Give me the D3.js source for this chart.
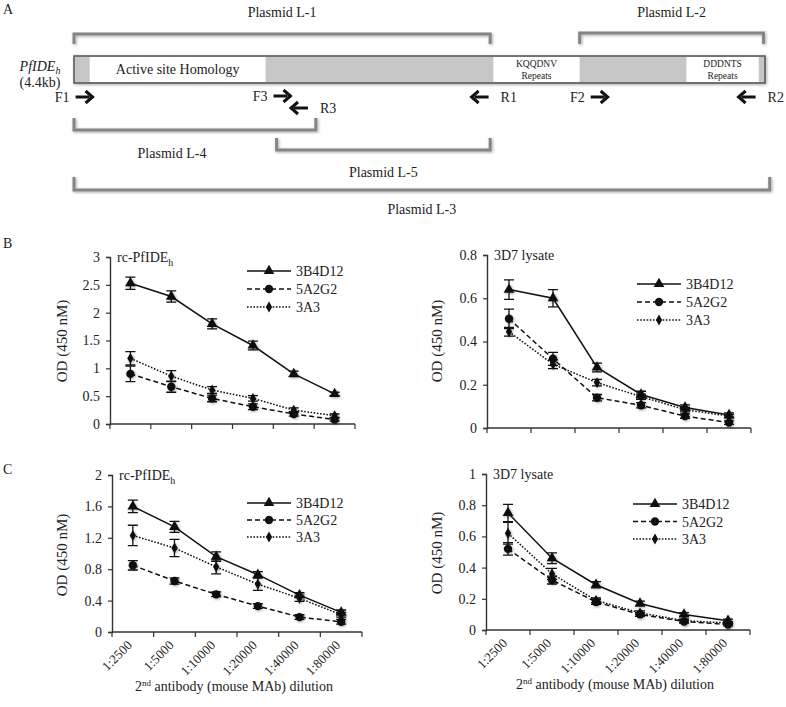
<!DOCTYPE html>
<html><head><meta charset="utf-8">
<script src="https://cdn.jsdelivr.net/npm/d3@7"></script>
<style>
body{margin:0;background:#fff}
svg text{font-family:"Liberation Serif","Tinos","DejaVu Serif","Noto Serif",serif !important;fill:#222}
</style>
</head><body>
<svg id="c" width="786" height="707"></svg>
<script>
// ---------- Data ----------
const dilutions = ["1:2500","1:5000","1:10000","1:20000","1:40000","1:80000"];
const seriesNames = ["3B4D12","5A2G2","3A3"];

// Panel B, rc-PfIDEh
const bRc3B4D12 = [2.53,2.29,1.80,1.41,0.90,0.54];
const bRc5A2G2  = [0.90,0.67,0.46,0.31,0.18,0.08];
const bRc3A3    = [1.18,0.86,0.61,0.46,0.25,0.15];
const bRcErr3B4D12 = [0.11,0.10,0.09,0.08,0.05,0.03];
const bRcErr5A2G2  = [0.14,0.10,0.06,0.05,0.04,0.03];
const bRcErr3A3    = [0.12,0.10,0.06,0.05,0.04,0.03];

// Panel B, 3D7 lysate
const bLy3B4D12 = [0.64,0.60,0.28,0.155,0.095,0.06];
const bLy5A2G2  = [0.505,0.32,0.14,0.105,0.055,0.025];
const bLy3A3    = [0.445,0.295,0.21,0.145,0.085,0.055];
const bLyErr3B4D12 = [0.045,0.04,0.02,0.015,0.012,0.01];
const bLyErr5A2G2  = [0.045,0.03,0.015,0.012,0.01,0.008];
const bLyErr3A3    = [0.02,0.02,0.015,0.012,0.01,0.008];

// Panel C, rc-PfIDEh
const cRc3B4D12 = [1.60,1.34,0.96,0.73,0.47,0.25];
const cRc5A2G2  = [0.85,0.65,0.48,0.33,0.19,0.13];
const cRc3A3    = [1.23,1.07,0.83,0.61,0.43,0.22];
const cRcErr3B4D12 = [0.08,0.07,0.06,0.04,0.03,0.03];
const cRcErr5A2G2  = [0.06,0.04,0.03,0.03,0.03,0.03];
const cRcErr3A3    = [0.13,0.11,0.09,0.08,0.04,0.03];

// Panel C, 3D7 lysate
const cLy3B4D12 = [0.75,0.46,0.29,0.17,0.10,0.06];
const cLy5A2G2  = [0.52,0.32,0.18,0.10,0.055,0.035];
const cLy3A3    = [0.62,0.36,0.19,0.11,0.06,0.045];
const cLyErr3B4D12 = [0.055,0.035,0.02,0.015,0.012,0.01];
const cLyErr5A2G2  = [0.04,0.025,0.015,0.012,0.01,0.008];
const cLyErr3A3    = [0.07,0.035,0.015,0.012,0.01,0.008];

// Panel A gene map (kb positions on a 4.4 kb gene)
const geneLength = 4.4;
const whiteSegments = [
  {start:0.10, end:1.22, lines:["Active site Homology"], big:true},
  {start:2.67, end:3.22, lines:["KQQDNV","Repeats"], big:false},
  {start:3.90, end:4.36, lines:["DDDNTS","Repeats"], big:false}
];
const plasmids = [
  {name:"Plasmid L-1", start:0.0, end:2.65},
  {name:"Plasmid L-2", start:3.22, end:4.39},
  {name:"Plasmid L-4", start:0.0, end:1.54},
  {name:"Plasmid L-5", start:1.29, end:2.65},
  {name:"Plasmid L-3", start:0.0, end:4.43}
];
const primers = [
  {name:"F1", pos:0.01, dir:1},
  {name:"F3", pos:1.27, dir:1},
  {name:"R3", pos:1.49, dir:-1},
  {name:"R1", pos:2.64, dir:-1},
  {name:"F2", pos:3.29, dir:1},
  {name:"R2", pos:4.34, dir:-1}
];

// ---------- Drawing ----------
const FONT = '"Liberation Serif","Tinos","DejaVu Serif","Noto Serif",serif';
const svg = d3.select("#c");
const defs = svg.append("defs");
const f = defs.append("filter").attr("id","sh").attr("x","-30%").attr("y","-30%").attr("width","160%").attr("height","160%");
f.append("feGaussianBlur").attr("in","SourceAlpha").attr("stdDeviation",1.4);
f.append("feOffset").attr("dx",1).attr("dy",1.2).attr("result","b");
f.append("feComponentTransfer").append("feFuncA").attr("type","linear").attr("slope",0.35);
const fm = f.append("feMerge"); fm.append("feMergeNode"); fm.append("feMergeNode").attr("in","SourceGraphic");

[["A",3,14],["B",3,248],["C",3,474]].forEach(([t,x,y])=>
  svg.append("text").attr("x",x).attr("y",y).attr("font-size",14).text(t));

// ----- Panel A -----
const gx = d3.scaleLinear().domain([0,geneLength]).range([74,765]);
const gA = svg.append("g");
gA.append("rect").attr("x",gx(0)).attr("y",56).attr("width",gx(geneLength)-gx(0)).attr("height",27)
  .attr("fill","#c6c6c6").attr("stroke","#555").attr("stroke-width",1.5).attr("filter","url(#sh)");
whiteSegments.forEach(s=>{
  gA.append("rect").attr("x",gx(s.start)).attr("y",57).attr("width",gx(s.end)-gx(s.start)).attr("height",25).attr("fill","#fff");
  const cx=(gx(s.start)+gx(s.end))/2;
  if(s.big){
    gA.append("text").attr("x",cx).attr("y",74).attr("text-anchor","middle").attr("font-size",14).text(s.lines[0]);
  } else {
    s.lines.forEach((l,i)=>gA.append("text").attr("x",cx).attr("y",67+i*12).attr("text-anchor","middle").attr("font-size",9.5).text(l));
  }
});
const gn = gA.append("text").attr("x",40).attr("y",71).attr("text-anchor","middle").attr("font-size",14).attr("font-style","italic");
gn.append("tspan").text("PfIDE");
gn.append("tspan").attr("dy",3).attr("font-size",10).text("h");
gA.append("text").attr("x",40).attr("y",87).attr("text-anchor","middle").attr("font-size",14).text("(4.4kb)");

const bracketY = {"Plasmid L-1":[34,44,17],"Plasmid L-2":[33,44,17],"Plasmid L-4":[130,118,158],"Plasmid L-5":[150,138,177],"Plasmid L-3":[190,177,214]};
plasmids.forEach(p=>{
  const [hy,ey,ty]=bracketY[p.name];
  const x0=gx(p.start), x1=gx(p.end);
  gA.append("path").attr("d",`M${x0},${ey}V${hy}H${x1}V${ey}`).attr("fill","none")
    .attr("stroke","#858585").attr("stroke-width",3).attr("filter","url(#sh)");
  let cx=(x0+x1)/2;
  if(p.name==="Plasmid L-4") cx=172;
  gA.append("text").attr("x",cx).attr("y",ty).attr("text-anchor","middle").attr("font-size",14).text(p.name);
});
const primerY = {"F1":97,"F3":96,"R3":108,"R1":97,"F2":97,"R2":97};
primers.forEach(p=>{
  const y=primerY[p.name];
  const xs=gx(p.pos), len=17*p.dir, xe=xs+len;
  gA.append("path").attr("d",`M${xs},${y}H${xe-3*p.dir}`).attr("stroke","#111").attr("stroke-width",3);
  gA.append("path").attr("d",`M${xe-7*p.dir},${y-6}L${xe},${y}L${xe-7*p.dir},${y+6}`).attr("fill","none").attr("stroke","#111").attr("stroke-width",3);
  const tx = p.dir>0 ? xs-6 : xs+12;
  gA.append("text").attr("x",tx).attr("y",y+5).attr("text-anchor",p.dir>0?"end":"start").attr("font-size",14).text(p.name);
});

// ----- Line charts -----
const styles = [
  {dash:null, sym:d3.symbolTriangle, size:50},
  {dash:"5,3", sym:d3.symbolCircle, size:55},
  {dash:"1.6,1.6", sym:d3.symbolDiamond, size:34}
];

function chart(cfg){
  const g = svg.append("g");
  const x = d3.scaleBand().domain(dilutions).range([cfg.x0,cfg.x1]);
  const y = d3.scaleLinear().domain([0,cfg.ymax]).range([cfg.yb,cfg.yt]);
  const bw = x.bandwidth();
  const cx = d => x(d)+bw/2;
  const ya = g.append("g").attr("transform",`translate(${cfg.x0},0)`)
    .call(d3.axisLeft(y).tickValues(cfg.ticks).tickSize(4).tickPadding(6).tickFormat(d3.format("~g")));
  ya.attr("font-family",FONT);
  ya.select(".domain").attr("stroke","#333").attr("stroke-width",1.4);
  ya.selectAll(".tick line").attr("stroke","#333").attr("stroke-width",1.2);
  ya.selectAll(".tick text").attr("font-size",14).attr("fill","#222");
  g.append("line").attr("x1",cfg.x0).attr("x2",cfg.x1).attr("y1",cfg.yb).attr("y2",cfg.yb).attr("stroke","#333").attr("stroke-width",1.4);
  const bounds = dilutions.map(d=>x(d)).concat([cfg.x1]);
  g.selectAll(".bt").data(bounds).join("line").attr("x1",d=>d).attr("x2",d=>d)
    .attr("y1",cfg.yb).attr("y2",cfg.yb+5).attr("stroke","#333").attr("stroke-width",1.2);
  if(cfg.xlabels){
    const xa = g.append("g").attr("transform",`translate(0,${cfg.yb})`)
      .call(d3.axisBottom(x).tickSize(0).tickPadding(0));
    xa.attr("font-family",FONT);
    xa.select(".domain").remove();
    xa.selectAll(".tick text").attr("font-size",13).attr("fill","#222")
      .attr("text-anchor","end").attr("dy",0).attr("y",0)
      .attr("transform","translate(0,14) rotate(-45)");
    const lab = g.append("text").attr("x",(cfg.x0+cfg.x1)/2-3).attr("y",cfg.yb+59).attr("text-anchor","middle").attr("font-size",14);
    lab.append("tspan").text("2");
    lab.append("tspan").attr("dy",-5).attr("font-size",9).text("nd");
    lab.append("tspan").attr("dy",5).text(" antibody (mouse MAb) dilution");
  }
  g.append("text").attr("transform",`translate(${cfg.ytx},${cfg.yty}) rotate(-90)`).attr("text-anchor","middle")
    .attr("font-size",15).text("OD (450 nM)");
  const t = g.append("text").attr("x",cfg.x0+7).attr("y",cfg.yt+5).attr("font-size",14);
  if(cfg.title==="rc"){ t.append("tspan").text("rc-PfIDE"); t.append("tspan").attr("dy",4).attr("font-size",10).text("h"); }
  else t.text("3D7 lysate");
  cfg.series.forEach((vals,si)=>{
    const st = styles[si];
    const errs = cfg.errs[si];
    const line = d3.line().x((v,i)=>cx(dilutions[i])).y(v=>y(v));
    g.append("path").datum(vals).attr("d",line).attr("fill","none").attr("stroke","#111")
      .attr("stroke-width",1.5).attr("stroke-dasharray",st.dash);
    vals.forEach((v,i)=>{
      const px=cx(dilutions[i]), e=errs[i];
      const y1=y(v+e), y2=y(Math.max(0,v-e));
      g.append("path").attr("d",`M${px},${y1}V${y2}M${px-5},${y1}H${px+5}M${px-5},${y2}H${px+5}`)
        .attr("stroke","#111").attr("stroke-width",1.3).attr("fill","none");
    });
    g.selectAll(null).data(vals).join("path")
      .attr("transform",(v,i)=>`translate(${cx(dilutions[i])},${y(v)})`)
      .attr("d",d3.symbol(st.sym,st.size)).attr("fill","#111").attr("filter","url(#sh)");
  });
  seriesNames.forEach((n,si)=>{
    const st=styles[si], ly=cfg.leg.y+si*cfg.leg.dy, lx=cfg.leg.x;
    g.append("line").attr("x1",lx).attr("x2",lx+44).attr("y1",ly).attr("y2",ly).attr("stroke","#111")
      .attr("stroke-width",1.5).attr("stroke-dasharray",st.dash);
    g.append("path").attr("transform",`translate(${lx+22},${ly})`).attr("d",d3.symbol(st.sym,st.size)).attr("fill","#111");
    g.append("text").attr("x",lx+49).attr("y",ly+5).attr("font-size",14).text(n);
  });
}

chart({x0:110,x1:355,yb:424,yt:257,ymax:3,ticks:[0,0.5,1,1.5,2,2.5,3],title:"rc",
  series:[bRc3B4D12,bRc5A2G2,bRc3A3],errs:[bRcErr3B4D12,bRcErr5A2G2,bRcErr3A3],
  leg:{x:247,y:271,dy:18},ytx:67,yty:341,xlabels:false});
chart({x0:487,x1:751,yb:428,yt:255,ymax:0.8,ticks:[0,0.2,0.4,0.6,0.8],title:"ly",
  series:[bLy3B4D12,bLy5A2G2,bLy3A3],errs:[bLyErr3B4D12,bLyErr5A2G2,bLyErr3A3],
  leg:{x:637,y:284,dy:18},ytx:442,yty:341,xlabels:false});
chart({x0:112,x1:362,yb:632,yt:475,ymax:2,ticks:[0,0.4,0.8,1.2,1.6,2],title:"rc",
  series:[cRc3B4D12,cRc5A2G2,cRc3A3],errs:[cRcErr3B4D12,cRcErr5A2G2,cRcErr3A3],
  leg:{x:247,y:503,dy:17},ytx:67,yty:555,xlabels:true});
chart({x0:486,x1:750,yb:630,yt:474,ymax:1,ticks:[0,0.2,0.4,0.6,0.8,1],title:"ly",
  series:[cLy3B4D12,cLy5A2G2,cLy3A3],errs:[cLyErr3B4D12,cLyErr5A2G2,cLyErr3A3],
  leg:{x:633,y:504,dy:17.5},ytx:442,yty:553,xlabels:true});
</script>
</body></html>
